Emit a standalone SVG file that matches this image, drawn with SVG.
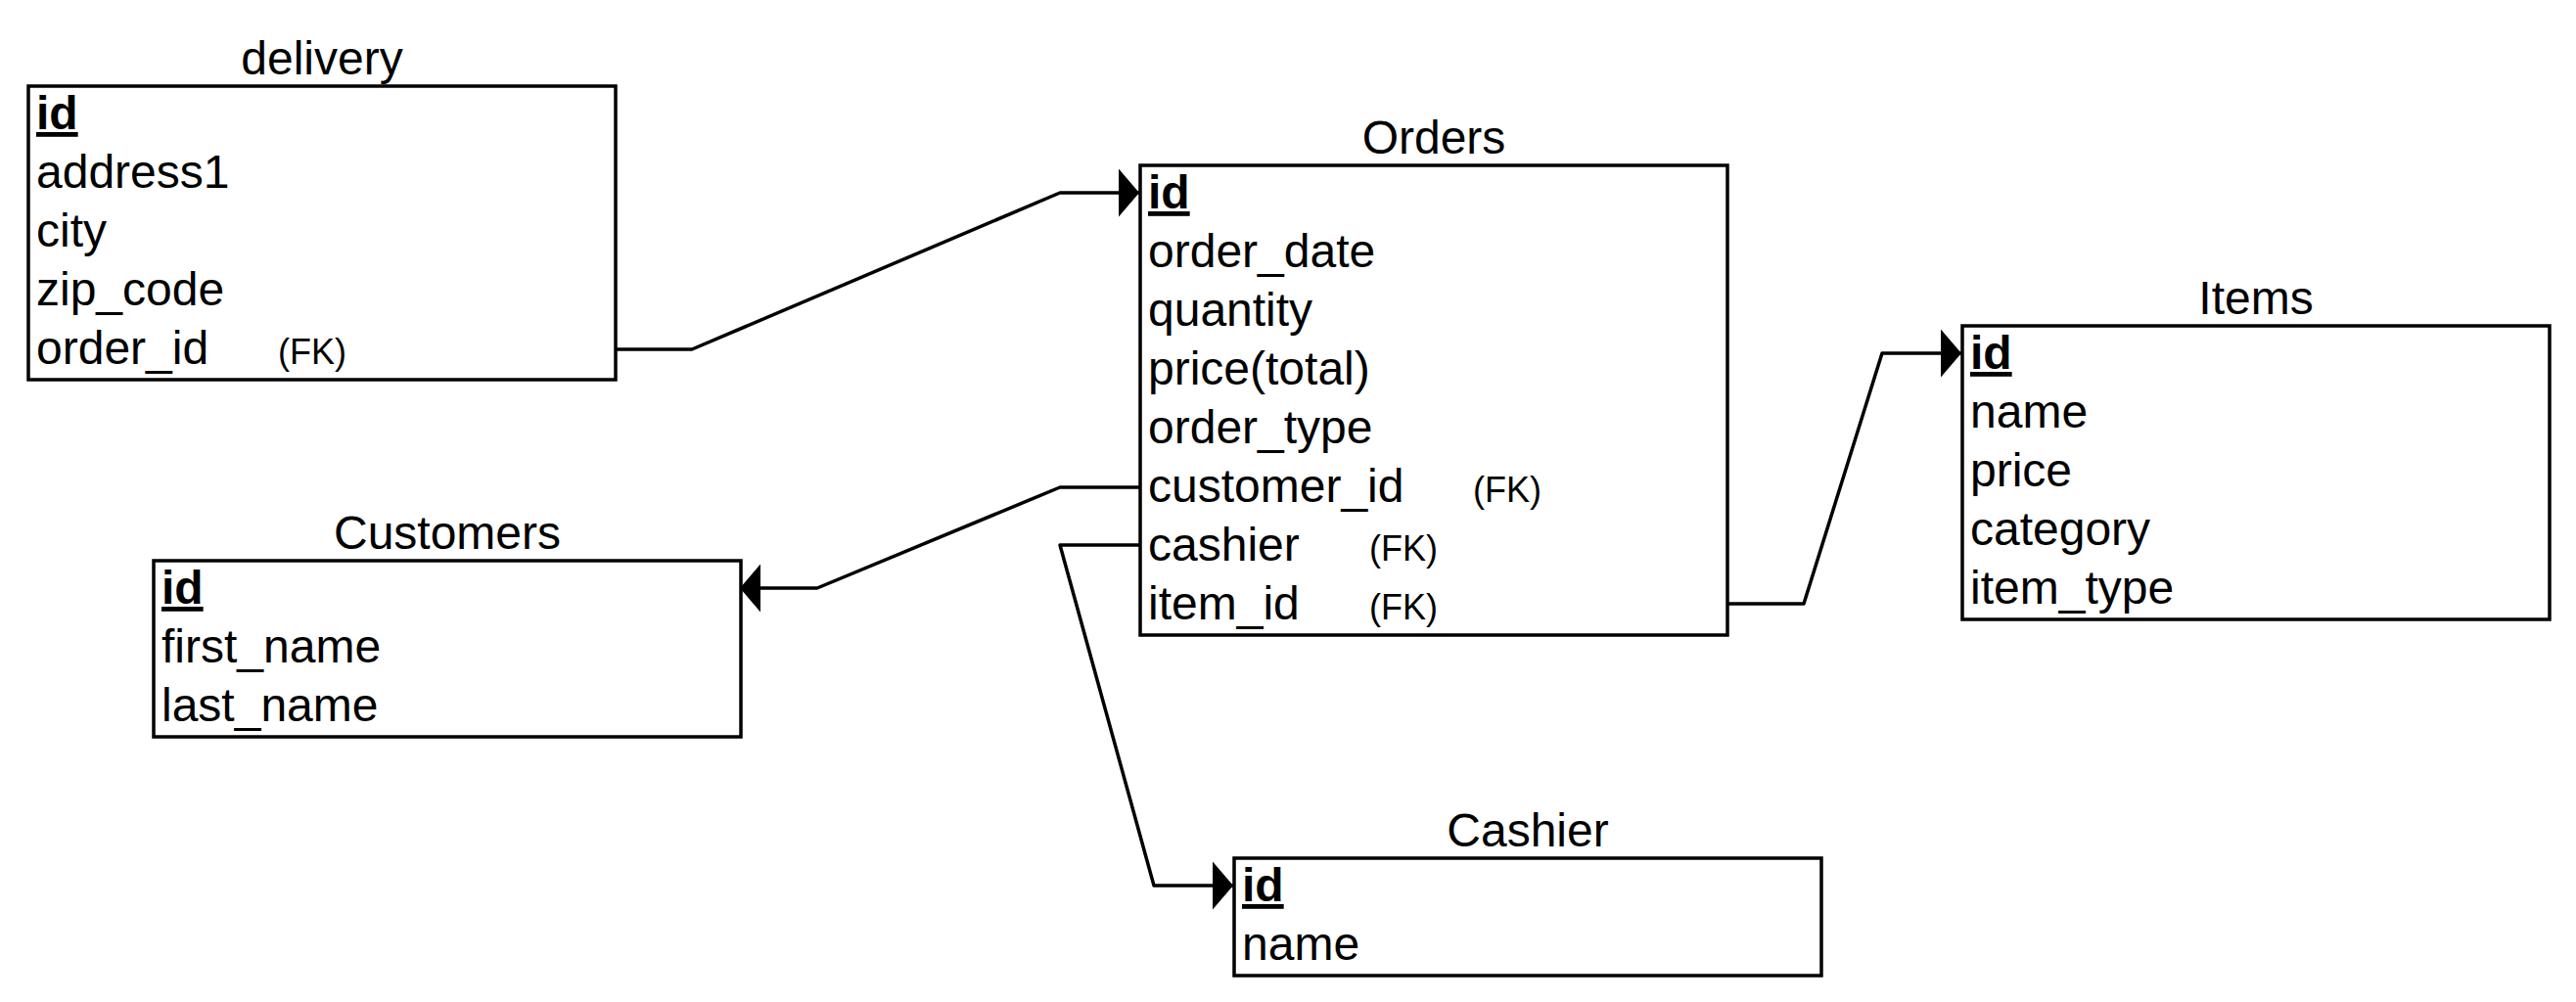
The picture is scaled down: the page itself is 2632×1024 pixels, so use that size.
<svg xmlns="http://www.w3.org/2000/svg" width="2632" height="1024" viewBox="0 0 2632 1024">
<style>
  text { font-family: "Liberation Sans", Arial, sans-serif; fill: #000; }
  .title { font-size: 48px; text-anchor: middle; }
  .row { font-size: 48px; }
  .pk { font-size: 48px; font-weight: bold; text-decoration: underline; }
  .fk { font-size: 36px; }
  .box { fill: #fff; stroke: #000; stroke-width: 3.5; }
  .conn { fill: none; stroke: #000; stroke-width: 3.5; stroke-linejoin: round; }
</style>
<defs>
  <marker id="block" markerUnits="userSpaceOnUse" markerWidth="24" markerHeight="50" refX="22" refY="24.5" orient="auto" viewBox="0 0 24 50">
    <path d="M1,0 L22,24.5 L1,49 Z" fill="#000"/>
  </marker>
</defs>
<rect width="2632" height="1024" fill="#fff"/>

<g id="delivery">
  <text class="title" x="329" y="76">delivery</text>
  <rect class="box" x="29" y="88" width="600" height="300"/>
  <text class="pk" x="37" y="132">id</text>
  <text class="row" x="37" y="192">address1</text>
  <text class="row" x="37" y="252">city</text>
  <text class="row" x="37" y="312">zip_code</text>
  <text class="row" x="37" y="372">order_id<tspan class="fk" x="284">(FK)</tspan></text>
</g>

<g id="orders">
  <text class="title" x="1465" y="157">Orders</text>
  <rect class="box" x="1165" y="169" width="600" height="480"/>
  <text class="pk" x="1173" y="213">id</text>
  <text class="row" x="1173" y="273">order_date</text>
  <text class="row" x="1173" y="333">quantity</text>
  <text class="row" x="1173" y="393">price(total)</text>
  <text class="row" x="1173" y="453">order_type</text>
  <text class="row" x="1173" y="513">customer_id<tspan class="fk" x="1505">(FK)</tspan></text>
  <text class="row" x="1173" y="573">cashier<tspan class="fk" x="1399">(FK)</tspan></text>
  <text class="row" x="1173" y="633">item_id<tspan class="fk" x="1399">(FK)</tspan></text>
</g>

<g id="items">
  <text class="title" x="2305" y="321">Items</text>
  <rect class="box" x="2005" y="333" width="600" height="300"/>
  <text class="pk" x="2013" y="377">id</text>
  <text class="row" x="2013" y="437">name</text>
  <text class="row" x="2013" y="497">price</text>
  <text class="row" x="2013" y="557">category</text>
  <text class="row" x="2013" y="617">item_type</text>
</g>

<g id="customers">
  <text class="title" x="457" y="561">Customers</text>
  <rect class="box" x="157" y="573" width="600" height="180"/>
  <text class="pk" x="165" y="617">id</text>
  <text class="row" x="165" y="677">first_name</text>
  <text class="row" x="165" y="737">last_name</text>
</g>

<g id="cashier">
  <text class="title" x="1561" y="865">Cashier</text>
  <rect class="box" x="1261" y="877" width="600" height="120"/>
  <text class="pk" x="1269" y="921">id</text>
  <text class="row" x="1269" y="981">name</text>
</g>

<g id="connectors">
  <path class="conn" d="M629,357 L707,357 L1083,197 L1164,197" marker-end="url(#block)"/>
  <path class="conn" d="M1165,498 L1083,498 L835,601 L756,601" marker-end="url(#block)"/>
  <path class="conn" d="M1165,557 L1083,557 L1179,905 L1260,905" marker-end="url(#block)"/>
  <path class="conn" d="M1765,617 L1843,617 L1923,361 L2004,361" marker-end="url(#block)"/>
</g>
</svg>
